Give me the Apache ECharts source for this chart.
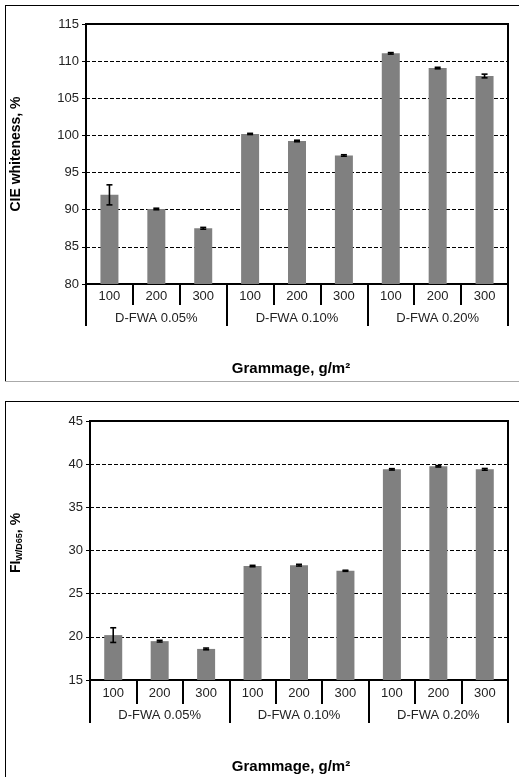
<!DOCTYPE html>
<html>
<head>
<meta charset="utf-8">
<script src="https://cdn.jsdelivr.net/npm/echarts@6/dist/echarts.min.js"></script>
<style>
html,body{margin:0;padding:0;background:#fff;}
#c{width:519px;height:777px;}
</style>
</head>
<body>
<div id="c"></div>
<script>
// ---- data ----
var grammage = ['100','200','300','100','200','300','100','200','300'];
var groups = ['D-FWA 0.05%','D-FWA 0.10%','D-FWA 0.20%'];
var whiteness = [92.0, 90.1, 87.5, 100.2, 99.25, 97.3, 111.05, 109.07, 108.0];
var whitenessErr = [1.35, 0.1, 0.12, 0.08, 0.1, 0.1, 0.1, 0.1, 0.25];
var fluor = [20.2, 19.5, 18.6, 28.2, 28.3, 27.65, 39.4, 39.75, 39.4];
var fluorErr = [0.85, 0.1, 0.1, 0.08, 0.1, 0.06, 0.08, 0.08, 0.1];
var yTicksTop = [80, 115, 5];
var yTicksBottom = [15, 45, 5];

var FONT = 'Liberation Sans, Arial, sans-serif';

function errData(vals, errs){
  return vals.map(function(v,i){ return [i, v-errs[i], v+errs[i]]; });
}
function errRender(params, api){
  var x = api.value(0);
  var lo = api.coord([x, api.value(1)]);
  var hi = api.coord([x, api.value(2)]);
  var hw = 3;
  var st = {stroke:'#000', lineWidth:1.6};
  return {type:'group', children:[
    {type:'line', shape:{x1:hi[0], y1:hi[1], x2:lo[0], y2:lo[1]}, style:st},
    {type:'line', shape:{x1:hi[0]-hw, y1:hi[1], x2:hi[0]+hw, y2:hi[1]}, style:st},
    {type:'line', shape:{x1:lo[0]-hw, y1:lo[1], x2:lo[0]+hw, y2:lo[1]}, style:st}
  ]};
}

function catAxis(gi, labelMargin, tickLen){
  return {
    type:'category', gridIndex:gi, data:grammage, position:'bottom',
    axisLine:{show:true, lineStyle:{color:'#000', width:2}},
    axisTick:{show:true, length:tickLen, lineStyle:{color:'#000', width:2}},
    axisLabel:{margin:labelMargin, fontSize:13, color:'#222', fontFamily:FONT},
    splitLine:{show:false}
  };
}
function groupAxis(gi, labelMargin, tickLen){
  return {
    type:'category', gridIndex:gi, data:groups, position:'bottom',
    axisLine:{show:false},
    axisTick:{show:true, length:tickLen, lineStyle:{color:'#000', width:2}},
    axisLabel:{margin:labelMargin, fontSize:13, color:'#222', fontFamily:FONT},
    splitLine:{show:false}
  };
}
function valAxis(gi, t){
  return {
    type:'value', gridIndex:gi, min:t[0], max:t[1], interval:t[2],
    axisLine:{show:true, lineStyle:{color:'#000', width:2}},
    axisTick:{show:true, length:4, lineStyle:{color:'#000', width:1}},
    axisLabel:{margin:7, fontSize:13, color:'#222', fontFamily:FONT},
    splitLine:{show:true, lineStyle:{color:'#000', width:1, type:[4,2]}}
  };
}

var chart = echarts.init(document.getElementById('c'), null, {renderer:'canvas'});
chart.setOption({
  animation:false,
  backgroundColor:'#fff',
  grid:[
    {left:86, top:24, width:422, height:260, show:true, borderColor:'#000', borderWidth:2, backgroundColor:'transparent'},
    {left:90, top:421, width:418, height:259, show:true, borderColor:'#000', borderWidth:2, backgroundColor:'transparent'}
  ],
  xAxis:[
    catAxis(0, 6, 21), groupAxis(0, 28, 42),
    catAxis(1, 7, 24), groupAxis(1, 29, 43)
  ],
  yAxis:[ valAxis(0, yTicksTop), valAxis(1, yTicksBottom) ],
  series:[
    {type:'bar', xAxisIndex:0, yAxisIndex:0, data:whiteness, barWidth:18, itemStyle:{color:'#808080'}},
    {type:'custom', xAxisIndex:0, yAxisIndex:0, data:errData(whiteness, whitenessErr), renderItem:errRender, z:5},
    {type:'bar', xAxisIndex:2, yAxisIndex:1, data:fluor, barWidth:18, itemStyle:{color:'#808080'}},
    {type:'custom', xAxisIndex:2, yAxisIndex:1, data:errData(fluor, fluorErr), renderItem:errRender, z:5}
  ],
  graphic:[
    {type:'line', shape:{x1:5, y1:5.5, x2:519, y2:5.5}, style:{stroke:'#000', lineWidth:1}},
    {type:'line', shape:{x1:5.5, y1:5, x2:5.5, y2:382}, style:{stroke:'#000', lineWidth:1}},
    {type:'line', shape:{x1:5, y1:381.5, x2:519, y2:381.5}, style:{stroke:'#aaa', lineWidth:1}},
    {type:'line', shape:{x1:5, y1:401.5, x2:519, y2:401.5}, style:{stroke:'#000', lineWidth:1}},
    {type:'line', shape:{x1:5.5, y1:401, x2:5.5, y2:777}, style:{stroke:'#000', lineWidth:1}},
    {type:'text', x:16, y:154, rotation:Math.PI/2,
      style:{text:'CIE whiteness, %', font:'bold 14px '+FONT, fill:'#000', textAlign:'center', textVerticalAlign:'middle'}},
    {type:'text', x:291, y:369,
      style:{text:'Grammage, g/m²', font:'bold 15px '+FONT, fill:'#000', textAlign:'center', textVerticalAlign:'middle'}},
    {type:'text', x:16, y:543, rotation:Math.PI/2,
      style:{text:'{a|FI}{b|W/D65}{a|, %}', textAlign:'center', textVerticalAlign:'middle',
        rich:{a:{fontSize:14, fontWeight:'bold', fontFamily:FONT, fill:'#000', color:'#000', lineHeight:16},
              b:{fontSize:9, fontWeight:'bold', fontFamily:FONT, fill:'#000', color:'#000', lineHeight:16, verticalAlign:'bottom', padding:[5,0,0,0]}}}},
    {type:'text', x:291, y:767,
      style:{text:'Grammage, g/m²', font:'bold 15px '+FONT, fill:'#000', textAlign:'center', textVerticalAlign:'middle'}}
  ]
});
</script>
</body>
</html>
